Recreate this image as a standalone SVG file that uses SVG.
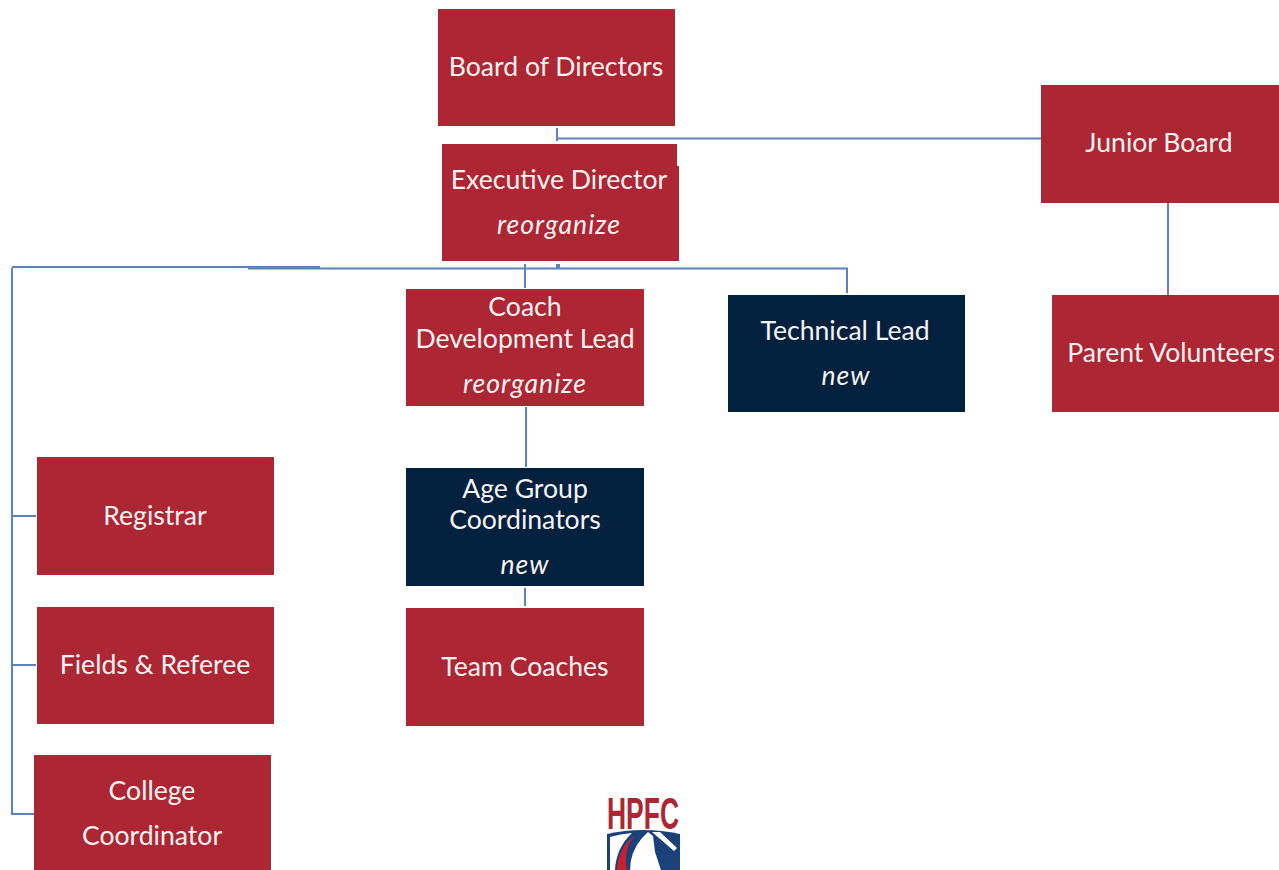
<svg xmlns="http://www.w3.org/2000/svg" width="1279" height="870" viewBox="0 0 1279 870">
<style>
.r{fill:#ac2633}.n{fill:#01213f}
text{font-family:Lato,"Open Sans",sans-serif;font-size:26.600px;fill:#f8f2f2;text-anchor:middle}
.i{font-style:italic;letter-spacing:1px}
.c{fill:none;stroke:#5b84bd;stroke-width:2}
</style>
<rect width="1279" height="870" fill="#fff"/>
<g id="connectors">
<path class="c" d="M557 128V141M557 138.500H1041"/>
<path class="c" d="M1168 203V295"/>
<path class="c" d="M12 267H320M248 268.500H847V293M525 264V288"/>
<path class="c" style="stroke-width:4" d="M558 264V268"/>
<path class="c" d="M12 268V814H34M12 516H36M12 665H36"/>
<path class="c" d="M526 407V467M525 588V606"/>
</g>
<g id="board"><rect class="r" x="438" y="9" width="237" height="117"/><text x="556" y="76">Board of Directors</text></g>
<g id="executive"><path class="r" d="M442 144H677V166H679V261H442Z"/><text x="559" y="189">Executive Director</text><text class="i" x="559" y="234">reorganize</text></g>
<g id="junior"><rect class="r" x="1041" y="85" width="238" height="118"/><text x="1159" y="152">Junior Board</text></g>
<g id="parents"><rect class="r" x="1052" y="295" width="227" height="117"/><text x="1171" y="362">Parent Volunteers</text></g>
<g id="coach-lead"><rect class="r" x="406" y="289" width="238" height="117"/><text x="525" y="316">Coach</text><text x="525" y="348">Development Lead</text><text class="i" x="525" y="393">reorganize</text></g>
<g id="technical"><rect class="n" x="728" y="295" width="237" height="117"/><text x="845" y="340">Technical Lead</text><text class="i" x="846" y="385">new</text></g>
<g id="age-group"><rect class="n" x="406" y="468" width="238" height="118"/><text x="525" y="498">Age Group</text><text x="525" y="529">Coordinators</text><text class="i" x="525" y="574">new</text></g>
<g id="team-coaches"><rect class="r" x="406" y="608" width="238" height="118"/><text x="525" y="676">Team Coaches</text></g>
<g id="registrar"><rect class="r" x="37" y="457" width="237" height="118"/><text x="155" y="525">Registrar</text></g>
<g id="fields"><rect class="r" x="37" y="607" width="237" height="117"/><text x="155" y="674">Fields &amp; Referee</text></g>
<g id="college"><rect class="r" x="34" y="755" width="237" height="115"/><text x="152" y="800">College</text><text x="152" y="845">Coordinator</text></g>
<g id="logo">
<text x="643" y="829" style="font-family:'Liberation Sans',sans-serif;font-weight:700;font-size:44px;fill:#ac2633" textLength="72" lengthAdjust="spacingAndGlyphs">HPFC</text>
<path d="M607 834Q643 826 680 834V870H607Z" fill="#1a4279"/>
<path d="M610 837Q620 834 632 833Q616 848 615 870H610Z" fill="#fff"/>
<path d="M634 836Q618 848 617 870H627Q623 850 634 836Z" fill="#c8202f"/>
<path d="M630 870Q630 852 642 838L648 832L653 836L655 852L661 870Z" fill="#fff"/>
<path d="M652 832L674 851L677 848L660 832Z" fill="#fff"/>
</g>
</svg>
